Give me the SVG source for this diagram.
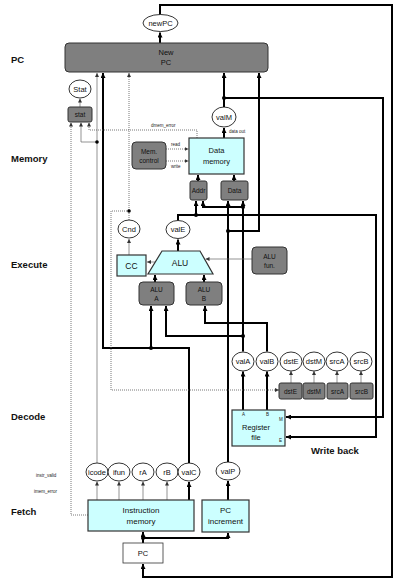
<svg xmlns="http://www.w3.org/2000/svg" width="402" height="582" viewBox="0 0 402 582">
<style>
.stage{font-family:"Liberation Sans",Arial,sans-serif;font-size:9.5px;font-weight:bold;fill:#111}
.t{font-family:"Liberation Sans",Arial,sans-serif;font-size:7.5px;text-anchor:middle;fill:#111}
.s{font-family:"Liberation Sans",Arial,sans-serif;font-size:6.5px;text-anchor:middle;fill:#111}
.tiny{font-family:"Liberation Sans",Arial,sans-serif;font-size:4.5px;fill:#222}
.cyan{fill:#ccffff;stroke:#333;stroke-width:1.2}
.gray{fill:#7f7f7f;stroke:#333;stroke-width:1}
.white{fill:#fff;stroke:#333;stroke-width:0.8}
.ell{fill:#fff;stroke:#000;stroke-width:0.8}
.bus{stroke:#000;stroke-width:2;fill:none}
.ctl{stroke:#666;stroke-width:0.7;fill:none}
.dash{stroke:#555;stroke-width:0.8;stroke-dasharray:1 1;fill:none}
.dot{fill:#000}
</style>
<defs>
<marker id="ah" viewBox="0 0 6 6" refX="6" refY="3" markerWidth="5" markerHeight="5" markerUnits="userSpaceOnUse" orient="auto"><path d="M0,0 L6,3 L0,6 z" fill="#000"/></marker>
<marker id="as" viewBox="0 0 6 6" refX="6" refY="3" markerWidth="4" markerHeight="4" markerUnits="userSpaceOnUse" orient="auto"><path d="M0,0 L6,3 L0,6 z" fill="#333"/></marker>
</defs>

<g id="stages">
<text class="stage" x="11" y="63">PC</text>
<text class="stage" x="11" y="162">Memory</text>
<text class="stage" x="11" y="268">Execute</text>
<text class="stage" x="11" y="420">Decode</text>
<text class="stage" x="11" y="515">Fetch</text>
<text class="stage" x="311" y="454">Write back</text>
</g>

<g id="connectors">
<!-- thick buses -->
<path class="bus" d="M160,43 V32.5" marker-end="url(#ah)"/>
<path class="bus" d="M160,14.5 V5 H392 V577 H143 V564" marker-end="url(#ah)"/>
<path class="bus" d="M143,543 V532" marker-end="url(#ah)"/>
<path class="bus" d="M143,538 H228 V533" marker-end="url(#ah)"/>
<path class="bus" d="M228,500 V481" marker-end="url(#ah)"/>
<path class="bus" d="M228,462 V201" marker-end="url(#ah)"/>
<path class="bus" d="M228,231 H259 V73" marker-end="url(#ah)"/>
<path class="bus" d="M189,500 V482" marker-end="url(#ah)"/>
<path class="bus" d="M189,463 V348 H103 V73" marker-end="url(#ah)"/>
<path class="bus" d="M151,348 V306" marker-end="url(#ah)"/>
<path class="bus" d="M243,410 V371.5" marker-end="url(#ah)"/>
<path class="bus" d="M267,410 V371.5" marker-end="url(#ah)"/>
<path class="bus" d="M243,351.5 V201" marker-end="url(#ah)"/>
<path class="bus" d="M243,336 H166 V306" marker-end="url(#ah)"/>
<path class="bus" d="M243,207 H203 V201" marker-end="url(#ah)"/>
<path class="bus" d="M267,351.5 V323 H205 V306" marker-end="url(#ah)"/>
<path class="bus" d="M155,282 V275" marker-end="url(#ah)"/>
<path class="bus" d="M204,282 V275" marker-end="url(#ah)"/>
<path class="bus" d="M178,251 V239.5" marker-end="url(#ah)"/>
<path class="bus" d="M178,220.5 V215 H376 V437 H286" marker-end="url(#ah)"/>
<path class="bus" d="M196,215 V201" marker-end="url(#ah)"/>
<path class="bus" d="M198,181 V175" marker-end="url(#ah)"/>
<path class="bus" d="M234,181 V175" marker-end="url(#ah)"/>
<path class="bus" d="M224,138 V128" marker-end="url(#ah)"/>
<path class="bus" d="M224,107 V73" marker-end="url(#ah)"/>
<path class="bus" d="M224,98 H383 V417 H286" marker-end="url(#ah)"/>
<circle class="dot" cx="143" cy="538" r="2"/>
<circle class="dot" cx="228" cy="231" r="2"/>
<circle class="dot" cx="151" cy="348" r="2"/>
<circle class="dot" cx="243" cy="336" r="2"/>
<circle class="dot" cx="243" cy="207" r="2"/>
<circle class="dot" cx="196" cy="215" r="2"/>
<circle class="dot" cx="224" cy="98" r="2"/>
<!-- thin control lines -->
<path class="ctl" d="M252,259 H205.5" marker-end="url(#as)"/>
<path class="ctl" d="M155,262 H147" marker-end="url(#as)"/>
<path class="ctl" d="M129,255 V239" marker-end="url(#as)"/>
<path class="ctl" d="M97,463 V73" marker-end="url(#as)"/>
<path class="ctl" d="M97,142 H81 V122.5" marker-end="url(#as)"/>
<circle class="dot" cx="97" cy="142" r="1.8"/>
<path class="ctl" d="M80,107 V98.5" marker-end="url(#as)"/>
<path class="ctl" d="M97,500 V481.5" marker-end="url(#as)"/>
<path class="ctl" d="M119,500 V481.5" marker-end="url(#as)"/>
<path class="ctl" d="M143,500 V481.5" marker-end="url(#as)"/>
<path class="ctl" d="M167,500 V481.5" marker-end="url(#as)"/>
<path class="ctl" d="M291,383 V371" marker-end="url(#as)"/>
<path class="ctl" d="M314,383 V371" marker-end="url(#as)"/>
<path class="ctl" d="M337,383 V371" marker-end="url(#as)"/>
<path class="ctl" d="M361,383 V371" marker-end="url(#as)"/>
<!-- dotted control lines -->
<path class="dash" d="M129,220 V73" marker-end="url(#as)"/>
<path class="dash" d="M129,211 H111 V390 H279" marker-end="url(#as)"/>
<circle class="dot" cx="129" cy="211" r="1.8"/>
<path class="dash" d="M197,138 V130 H89 V122.5" marker-end="url(#as)"/>
<path class="dash" d="M88,515 H71 V122.5" marker-end="url(#as)"/>
<path class="dash" d="M166,149 H188.5" marker-end="url(#as)"/>
<path class="dash" d="M166,161 H188.5" marker-end="url(#as)"/>
</g>

<g id="labels">
<text class="tiny" x="151" y="127">dmem_error</text>
<text class="tiny" x="229" y="133">data out</text>
<text class="tiny" x="171" y="146">read</text>
<text class="tiny" x="171" y="168">write</text>
<text class="tiny" x="36" y="477">instr_valid</text>
<text class="tiny" x="34" y="493">imem_error</text>
</g>

<g id="newPC"><ellipse class="ell" cx="160.5" cy="23" rx="17.5" ry="8.5"/><text class="t" x="160.5" y="25.8">newPC</text></g>
<g id="NewPC"><rect class="gray" x="65" y="43" width="203" height="29" rx="4"/><text class="t" x="166" y="55">New</text><text class="t" x="166" y="65">PC</text></g>
<g id="Stat"><ellipse class="ell" cx="80" cy="89" rx="11" ry="9"/><text class="t" x="80" y="91.7">Stat</text></g>
<g id="stat"><rect class="gray" x="68" y="107" width="24" height="15" rx="2"/><text class="s" x="80" y="117">stat</text></g>
<g id="valM"><ellipse class="ell" cx="224" cy="117" rx="12" ry="10"/><text class="t" x="224" y="119.7">valM</text></g>
<g id="DataMemory"><rect class="cyan" x="189" y="138" width="55" height="36"/><text class="t" x="216.5" y="153">Data</text><text class="t" x="216.5" y="164">memory</text></g>
<g id="MemControl"><rect class="gray" x="132" y="142" width="34" height="27" rx="4"/><text class="s" x="149" y="154">Mem.</text><text class="s" x="149" y="163">control</text></g>
<g id="Addr"><rect class="gray" x="190" y="181" width="17" height="19" rx="2"/><text class="s" x="198.5" y="192.5">Addr</text></g>
<g id="Data"><rect class="gray" x="221" y="181" width="27" height="19" rx="2"/><text class="s" x="234.5" y="192.5">Data</text></g>
<g id="Cnd"><ellipse class="ell" cx="129" cy="229" rx="11" ry="9"/><text class="t" x="129" y="231.7">Cnd</text></g>
<g id="valE"><ellipse class="ell" cx="178" cy="229.5" rx="12" ry="9"/><text class="t" x="178" y="232.2">valE</text></g>
<g id="ALU"><polygon class="cyan" points="162,251 200,251 213,274 148,274"/><text class="t" x="180" y="266" style="font-size:8.5px">ALU</text></g>
<g id="CC"><rect class="cyan" x="117" y="255" width="29" height="21"/><text class="t" x="131.5" y="268.5" style="font-size:8.5px">CC</text></g>
<g id="ALUfun"><rect class="gray" x="252" y="247" width="35" height="27" rx="4"/><text class="s" x="269.5" y="259">ALU</text><text class="s" x="269.5" y="268">fun.</text></g>
<g id="ALUA"><rect class="gray" x="139" y="282" width="35" height="23" rx="4"/><text class="s" x="156.5" y="292">ALU</text><text class="s" x="156.5" y="301">A</text></g>
<g id="ALUB"><rect class="gray" x="186" y="282" width="36" height="23" rx="4"/><text class="s" x="204" y="292">ALU</text><text class="s" x="204" y="301">B</text></g>
<g id="valA"><ellipse class="ell" cx="243" cy="361.5" rx="11" ry="9.5"/><text class="t" x="243" y="364.2">valA</text></g>
<g id="valB"><ellipse class="ell" cx="267" cy="361.5" rx="11" ry="9.5"/><text class="t" x="267" y="364.2">valB</text></g>
<g id="dstE"><ellipse class="ell" cx="291" cy="361.5" rx="11" ry="9.5"/><text class="t" x="291" y="364.2">dstE</text></g>
<g id="dstM"><ellipse class="ell" cx="314" cy="361.5" rx="11" ry="9.5"/><text class="t" x="314" y="364.2">dstM</text></g>
<g id="srcA"><ellipse class="ell" cx="337" cy="361.5" rx="11" ry="9.5"/><text class="t" x="337" y="364.2">srcA</text></g>
<g id="srcB"><ellipse class="ell" cx="361" cy="361.5" rx="11" ry="9.5"/><text class="t" x="361" y="364.2">srcB</text></g>
<g id="dstEbox"><rect class="gray" x="279" y="383" width="23" height="16" rx="2"/><text class="s" x="290.5" y="393.5">dstE</text></g>
<g id="dstMbox"><rect class="gray" x="303" y="383" width="22" height="16" rx="2"/><text class="s" x="314" y="393.5">dstM</text></g>
<g id="srcAbox"><rect class="gray" x="327" y="383" width="21" height="16" rx="2"/><text class="s" x="337.5" y="393.5">srcA</text></g>
<g id="srcBbox"><rect class="gray" x="350" y="383" width="23" height="16" rx="2"/><text class="s" x="361.5" y="393.5">srcB</text></g>
<g id="RegisterFile"><rect class="cyan" x="232" y="410" width="53" height="36"/><text class="t" x="256" y="430">Register</text><text class="t" x="256" y="440">file</text><text class="tiny" x="242" y="416">A</text><text class="tiny" x="266" y="416">B</text><text class="tiny" x="279" y="421">M</text><text class="tiny" x="279" y="442">E</text></g>
<g id="icode"><ellipse class="ell" cx="97" cy="472" rx="11" ry="9"/><text class="t" x="97" y="474.7">icode</text></g>
<g id="ifun"><ellipse class="ell" cx="119" cy="472" rx="11" ry="9"/><text class="t" x="119" y="474.7">ifun</text></g>
<g id="rA"><ellipse class="ell" cx="143" cy="472" rx="11" ry="9"/><text class="t" x="143" y="474.7">rA</text></g>
<g id="rB"><ellipse class="ell" cx="167" cy="472" rx="11" ry="9"/><text class="t" x="167" y="474.7">rB</text></g>
<g id="valC"><ellipse class="ell" cx="189" cy="472" rx="11" ry="9"/><text class="t" x="189" y="474.7">valC</text></g>
<g id="valP"><ellipse class="ell" cx="228" cy="471" rx="12" ry="9"/><text class="t" x="228" y="473.7">valP</text></g>
<g id="InstructionMemory"><rect class="cyan" x="88" y="500" width="106" height="31"/><text class="t" x="141" y="513" style="font-size:8px">Instruction</text><text class="t" x="141" y="524" style="font-size:8px">memory</text></g>
<g id="PCincrement"><rect class="cyan" x="202" y="500" width="47" height="32"/><text class="t" x="225.5" y="513" style="font-size:8px">PC</text><text class="t" x="225.5" y="524" style="font-size:8px">increment</text></g>
<g id="PC"><rect class="white" x="123" y="543" width="40" height="20"/><text class="t" x="143" y="556">PC</text></g>
</svg>
